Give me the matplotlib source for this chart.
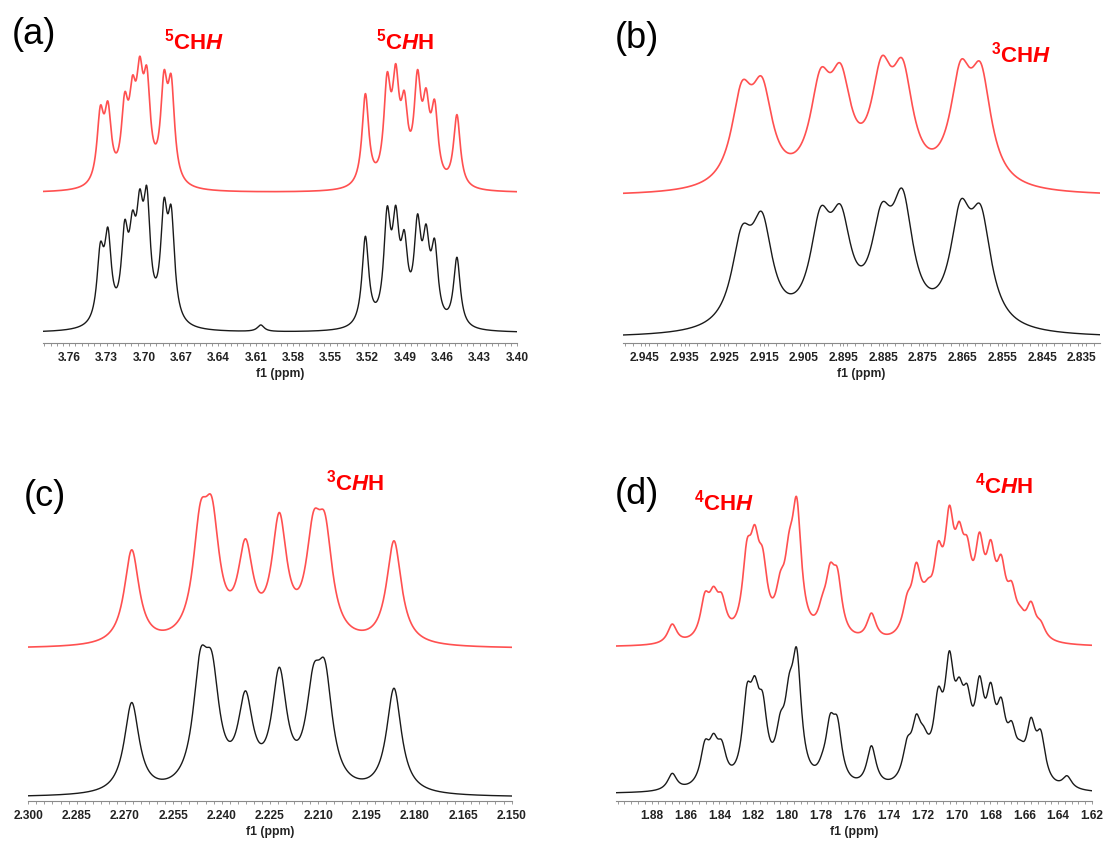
import numpy as np
import matplotlib
matplotlib.use("Agg")
import matplotlib.pyplot as plt
from matplotlib.ticker import MultipleLocator, FormatStrFormatter

plt.rcParams['font.family'] = ['Liberation Sans', 'DejaVu Sans']
plt.rcParams['mathtext.fontset'] = 'custom'
plt.rcParams['mathtext.rm'] = 'Liberation Sans'
plt.rcParams['mathtext.bf'] = 'Liberation Sans:bold'
plt.rcParams['mathtext.it'] = 'Liberation Sans:italic'
plt.rcParams['mathtext.bfit'] = 'Liberation Sans:italic:bold'

# ---- peak lists (ppm, height) ----
# (a) 5-CH2
a_pos = [3.7350, 3.7289, 3.7154, 3.7091, 3.7033, 3.6976, 3.6838, 3.6780,
         3.5219, 3.5044, 3.4975, 3.4906, 3.4800, 3.4731, 3.4662, 3.4483]
a_sim = [87.3, 91.7, 100.7, 117.7, 136.7, 126.7, 122.7, 118.3,
         99.3, 120.7, 129.3, 102.3, 123.3, 105.0, 93.3, 78.3]
a_exp_pos = a_pos + [3.6060]
a_exp = [90.7, 105.7, 113.0, 122.7, 144.0, 146.7, 135.0, 127.3,
         96.7, 126.7, 127.7, 103.0, 119.0, 109.0, 94.3, 75.7, 8.0]

# (b) 3-CHH
b_pos = [2.9206, 2.9155, 2.9008, 2.8957, 2.8854, 2.8801, 2.8655, 2.8604]
b_sim = [115.0, 119.3, 127.7, 132.7, 140.0, 137.3, 136.0, 133.3]
b_exp = [112.3, 126.0, 131.0, 133.3, 135.0, 149.0, 138.3, 132.7]

# (c) 3-CHH
c_pos = [2.2679, 2.2466, 2.2430, 2.2326, 2.2221, 2.2115, 2.2079, 2.1865]
c_sim = [99.0, 146.3, 151.3, 110.0, 136.3, 137.3, 135.0, 108.0]
c_exp = [95.0, 148.3, 145.3, 106.7, 130.3, 132.7, 136.7, 109.3]

# (d) 4-CH2
d_pos = [1.8678, 1.8485, 1.8434, 1.8386, 1.8237, 1.8191, 1.8144, 1.8040,
         1.7988, 1.7943, 1.7792, 1.7746, 1.7703, 1.7502, 1.7291, 1.7237,
         1.7195, 1.7166, 1.7108, 1.7042, 1.6984, 1.6937, 1.6864, 1.6798,
         1.6736, 1.6674, 1.6622, 1.6560, 1.6502]
d_sim = [23.3, 55.3, 61.0, 54.3, 107.7, 122.7, 99.3, 76.0,
         116.0, 150.0, 52.7, 84.3, 79.3, 34.3, 54.3, 85.0,
         65.3, 69.3, 106.0, 142.0, 126.0, 111.0, 115.3, 107.7,
         92.7, 66.0, 41.0, 46.0, 26.7]
d_exp_pos = d_pos + [1.6347]
d_exp = [20.7, 54.0, 60.7, 54.0, 110.0, 118.3, 101.7, 81.7,
         120.0, 146.0, 41.7, 80.0, 77.3, 48.3, 56.7, 80.0,
         68.3, 60.0, 107.0, 143.3, 117.0, 110.0, 118.3, 111.7,
         96.7, 73.0, 54.0, 76.7, 64.0, 18.3]

a_ticks = [3.76, 3.73, 3.70, 3.67, 3.64, 3.61, 3.58, 3.55, 3.52, 3.49, 3.46, 3.43, 3.40]
b_ticks = [2.945, 2.935, 2.925, 2.915, 2.905, 2.895, 2.885, 2.875, 2.865, 2.855, 2.845, 2.835]
c_ticks = [2.300, 2.285, 2.270, 2.255, 2.240, 2.225, 2.210, 2.195, 2.180, 2.165, 2.150]
d_ticks = [1.88, 1.86, 1.84, 1.82, 1.80, 1.78, 1.76, 1.74, 1.72, 1.70, 1.68, 1.66, 1.64, 1.62]

W, H = 1107, 841
fig = plt.figure(figsize=(W / 100, H / 100), dpi=100)


def lorentz(x, c, w):
    return 1.0 / (1.0 + ((x - c) / w) ** 2)


def spectrum(xs, pos, hts, w):
    pos = np.asarray(pos)
    hts = np.asarray(hts, dtype=float)
    m = lorentz(pos[:, None], pos[None, :], w)
    amp = hts.copy()
    for _ in range(4000):
        amp *= hts / (m @ amp)
    y = lorentz(xs[:, None], pos[None, :], w) @ amp
    return y - y.min()


def panel(x0, x1, ybot, ytop, xlim, ticks, minor, fmt, sim, exp, w, off_r, off_b):
    ax = fig.add_axes([x0 / W, 1 - ybot / H, (x1 - x0) / W, (ybot - ytop) / H])
    xs = np.linspace(xlim[0], xlim[1], 4000)
    ax.plot(xs, off_r + spectrum(xs, sim[0], sim[1], w), color='#ff5050', lw=1.2)
    ax.plot(xs, off_b + spectrum(xs, exp[0], exp[1], w), color='#1a1a1a', lw=1.0)
    ax.set_xlim(xlim)
    ax.set_ylim(0, ybot - ytop)
    for s in ['left', 'right', 'top']:
        ax.spines[s].set_visible(False)
    ax.spines['bottom'].set_color('#8a8a8a')
    ax.spines['bottom'].set_linewidth(0.8)
    ax.set_yticks([])
    ax.set_xticks(ticks)
    ax.xaxis.set_major_formatter(FormatStrFormatter(fmt))
    ax.xaxis.set_minor_locator(MultipleLocator(minor))
    ax.tick_params(axis='x', which='both', direction='out', length=2.2, width=0.6,
                   color='#8a8a8a', pad=4.5)
    for lab in ax.get_xticklabels():
        lab.set_fontweight('bold')
        lab.set_fontsize(8.6)
        lab.set_color('#222222')
    ax.set_xlabel('f1 (ppm)', fontsize=8.8, fontweight='bold', color='#222222', labelpad=2.5)
    return ax


panel(43, 517, 343, 10, (3.7811, 3.40), a_ticks, 0.005, '%.2f',
      (a_pos, a_sim), (a_exp_pos, a_exp), 0.0033, 151.3, 11.3)
panel(622.7, 1100, 343, 10, (2.9506, 2.8304), b_ticks, 0.002, '%.3f',
      (b_pos, b_sim), (b_pos, b_exp), 0.0032, 149.7, 8.0)
panel(28.3, 511.6, 801, 440, (2.300, 2.150), c_ticks, 0.0025, '%.3f',
      (c_pos, c_sim), (c_pos, c_exp), 0.0028, 153.7, 5.0)
panel(616, 1092, 801, 440, (1.901, 1.62), d_ticks, 0.004, '%.2f',
      (d_pos, d_sim), (d_exp_pos, d_exp), 0.0033, 155.0, 8.3)


def ftext(x, y, s, **kw):
    fig.text(x / W, 1 - y / H, s, ha='center', va='center', **kw)


for x, y, s in [(34, 35, '(a)'), (637, 39, '(b)'), (45, 496, '(c)'), (637, 495, '(d)')]:
    ftext(x, y, s, fontsize=26, color='black')

lab_hh2 = r'$^{\mathbf{%s}}\mathbf{CH}\mathbfit{H}$'
lab_h2h = r'$^{\mathbf{%s}}\mathbf{C}\mathbfit{H}\mathbf{H}$'
for x, y, s in [(194, 42, lab_hh2 % '5'), (405, 42, lab_h2h % '5'),
                (1021, 55, lab_hh2 % '3'), (355, 483, lab_h2h % '3'),
                (724, 503, lab_hh2 % '4'), (1004, 486, lab_h2h % '4')]:
    ftext(x, y, s, fontsize=16, color='#ff0000')

fig.savefig('out.png', dpi=100)
